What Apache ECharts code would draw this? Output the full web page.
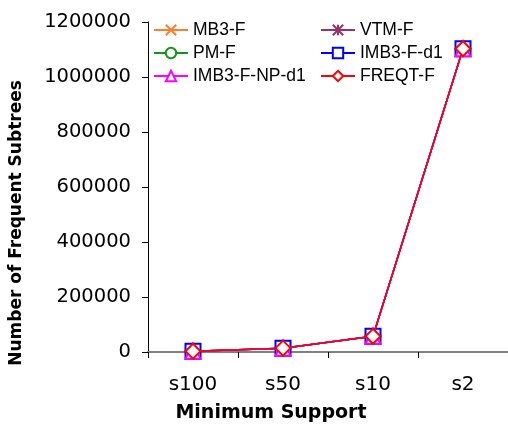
<!DOCTYPE html>
<html><head><meta charset="utf-8">
<script src="https://cdn.jsdelivr.net/npm/echarts@6/dist/echarts.min.js"></script>
<style>html,body{margin:0;padding:0;background:#fff}#c{width:508px;height:428px}</style>
</head><body><div id="c"></div>
<script>
var categories = ['s100', 's50', 's10', 's2'];
var seriesNames = ['MB3-F', 'VTM-F', 'PM-F', 'IMB3-F-d1', 'IMB3-F-NP-d1', 'FREQT-F'];
var mb3f     = [3000, 14000, 57000, 1103000];
var vtmf     = [3000, 14000, 57000, 1103000];
var pmf      = [3000, 14000, 57000, 1103000];
var imb3fd1  = [3000, 14000, 57000, 1103000];
var imb3fnp  = [3000, 14000, 57000, 1103000];
var freqtf   = [3000, 14000, 57000, 1103000];
var yTicks = [0, 200000, 400000, 600000, 800000, 1000000, 1200000];

var dataArr = [mb3f, vtmf, pmf, imb3fd1, imb3fnp, freqtf];
var colors = ['#ff7f2a', '#993366', '#109618', '#0000ff', '#ff00ff', '#ff0000'];
var symbols = [
  'path://M0,0L10,10M10,0L0,10',
  'path://M0,0L10,10M10,0L0,10M5,0L5,10M0,5L10,5',
  'emptyCircle', 'emptyRect', 'emptyTriangle', 'emptyDiamond'
];
var font = '"Liberation Sans", Arial, sans-serif';
var wide = '"DejaVu Sans", sans-serif';
var series = seriesNames.map(function (n, i) {
  var isPath = symbols[i].indexOf('path://') === 0;
  return {
    name: n, type: 'line', data: dataArr[i],
    symbol: symbols[i], symbolSize: 15,
    lineStyle: { color: colors[i], width: 1.5 },
    itemStyle: isPath ? { color: 'none', borderColor: colors[i], borderWidth: 1.5 }
                      : { color: colors[i], borderColor: colors[i], borderWidth: 1.5 },
    z: 2 + i
  };
});
var legendBase = {
  orient: 'vertical', itemWidth: 34, itemHeight: 13, itemGap: 5,
  textStyle: { fontFamily: font, fontSize: 17.5, color: '#000', lineHeight: 13 },
  top: 16
};
var option = {
  animation: false,
  backgroundColor: '#fff',
  legend: [
    Object.assign({}, legendBase, { left: 148, data: ['MB3-F', 'PM-F', 'IMB3-F-NP-d1'] }),
    Object.assign({}, legendBase, { left: 315, data: ['VTM-F', 'IMB3-F-d1', 'FREQT-F'] })
  ],
  grid: { left: 144, top: 22, right: 0, bottom: 70, containLabel: false },
  xAxis: {
    type: 'category', data: categories, boundaryGap: true,
    name: 'Minimum Support', nameLocation: 'middle', nameGap: 52,
    nameTextStyle: { fontFamily: wide, fontSize: 19, fontWeight: 'bold', color: '#000', padding: [0, 114, 0, 0] },
    axisLine: { lineStyle: { color: '#808080', width: 2 } },
    axisTick: { show: true, length: 6, alignWithLabel: false, lineStyle: { color: '#000' } },
    axisLabel: { fontFamily: wide, fontSize: 20, color: '#000', margin: 23 },
    splitLine: { show: false }
  },
  yAxis: {
    type: 'value', min: 0, max: 1200000, interval: 200000,
    name: 'Number of Frequent Subtrees', nameLocation: 'middle', nameGap: 123,
    nameTextStyle: { fontFamily: wide, fontSize: 17, fontWeight: 'bold', color: '#000', padding: [0, 72, 0, 0] },
    axisLine: { show: true, lineStyle: { color: '#000', width: 1 } },
    axisTick: { show: true, length: 6, lineStyle: { color: '#000' } },
    axisLabel: { fontFamily: wide, fontSize: 19.5, color: '#000', margin: 17,
      formatter: function (v) { return yTicks.indexOf(v) >= 0 ? String(v) : ''; } },
    splitLine: { show: false }
  },
  series: series
};
var chart = echarts.init(document.getElementById('c'), null, { renderer: 'canvas' });
chart.setOption(option);
</script></body></html>
